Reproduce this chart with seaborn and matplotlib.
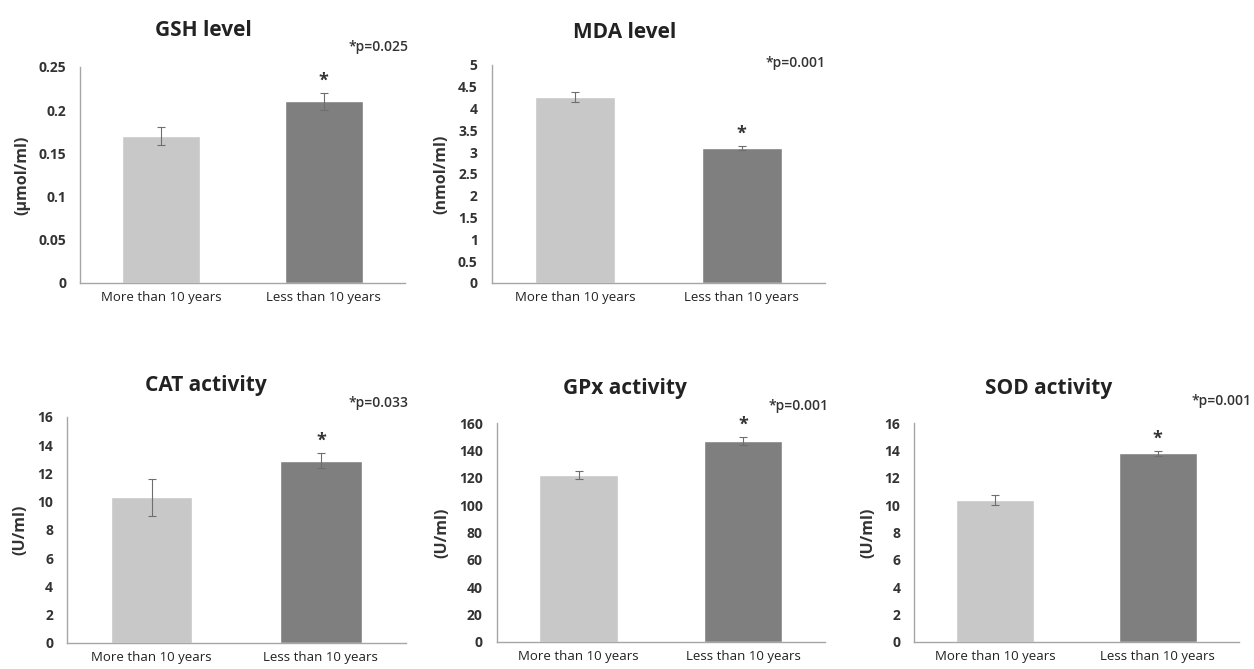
import numpy as np
import matplotlib
matplotlib.use("Agg")
import matplotlib.pyplot as plt
import seaborn as sns

# groups on the x axis
groups = ["More than 10 years", "Less than 10 years"]

# means and error bars
gsh_mean = [0.17, 0.21]
gsh_err = [0.01, 0.01]
mda_mean = [4.27, 3.10]
mda_err = [0.12, 0.05]
cat_mean = [10.3, 12.9]
cat_err = [1.3, 0.55]
gpx_mean = [122, 147]
gpx_err = [3, 3]
sod_mean = [10.4, 13.8]
sod_err = [0.35, 0.2]

# tick labels as printed (Excel "general" format)
gsh_ticks = [0, 0.05, 0.1, 0.15, 0.2, 0.25]
gsh_labels = ["0", "0.05", "0.1", "0.15", "0.2", "0.25"]
mda_ticks = [0, 0.5, 1, 1.5, 2, 2.5, 3, 3.5, 4, 4.5, 5]
mda_labels = ["0", "0.5", "1", "1.5", "2", "2.5", "3", "3.5", "4", "4.5", "5"]
act_ticks = [0, 2, 4, 6, 8, 10, 12, 14, 16]
gpx_ticks = [0, 20, 40, 60, 80, 100, 120, 140, 160]

light = "#c8c8c8"
dark = "#7f7f7f"
axis_grey = "#a6a6a6"
font = ["Open Sans", "DejaVu Sans"]

sns.set_style("white")
plt.rcParams["font.family"] = font


def draw_panel(fig, rect, means, errs, title, ylabel, ticks, labels, ptext,
               title_xy, p_xy):
    ax = fig.add_axes(rect)
    sns.barplot(x=groups, y=means, hue=groups, palette=[light, dark],
                width=0.48, legend=False, ax=ax, saturation=1)
    ax.errorbar(range(len(groups)), means, yerr=errs, fmt="none",
                ecolor="#6e6e6e", elinewidth=0.8, capsize=3, capthick=0.8)
    # significance star above the second bar
    ax.annotate("*", xy=(1, means[1] + errs[1]), xytext=(0, 2),
                textcoords="offset points", ha="center", va="bottom",
                fontsize=13, fontweight="bold", color="#333333")
    ax.set_xlim(-0.5, 1.5)
    ax.set_ylim(ticks[0], ticks[-1])
    ax.set_yticks(ticks)
    ax.set_yticklabels(labels)
    ax.tick_params(axis="y", length=0, pad=10, labelsize=10)
    ax.tick_params(axis="x", length=0, pad=6, labelsize=9.5)
    for t in ax.get_yticklabels():
        t.set_fontweight("bold")
        t.set_color("#333333")
    for t in ax.get_xticklabels():
        t.set_color("#222222")
    ax.set_ylabel(ylabel, fontsize=11.5, fontweight="bold", labelpad=6,
                  color="#333333")
    ax.set_xlabel("")
    for s in ["top", "right"]:
        ax.spines[s].set_visible(False)
    for s in ["left", "bottom"]:
        ax.spines[s].set_color(axis_grey)
        ax.spines[s].set_linewidth(1.0)
    ax.text(title_xy[0], title_xy[1], title, transform=ax.transAxes,
            ha="center", va="center", fontsize=15, fontweight="bold",
            color="#222222")
    ax.text(p_xy[0], p_xy[1], ptext, transform=ax.transAxes,
            ha="right", va="center", fontsize=10, fontweight="semibold",
            color="#333333")
    return ax


fig = plt.figure(figsize=(12.54, 6.69), dpi=100)

draw_panel(fig, [0.0638, 0.577, 0.259, 0.323], gsh_mean, gsh_err,
           "GSH level", "(\u00b5mol/ml)", gsh_ticks, gsh_labels, "*p=0.025",
           (0.38, 1.17), (1.01, 1.09))
draw_panel(fig, [0.392, 0.577, 0.266, 0.326], mda_mean, mda_err,
           "MDA level", "(nmol/ml)", mda_ticks, mda_labels, "*p=0.001",
           (0.40, 1.15), (1.0, 1.01))
draw_panel(fig, [0.0534, 0.0389, 0.270, 0.338], cat_mean, cat_err,
           "CAT activity", "(U/ml)", act_ticks, [str(v) for v in act_ticks],
           "*p=0.033", (0.41, 1.14), (1.01, 1.06))
draw_panel(fig, [0.396, 0.0404, 0.262, 0.327], gpx_mean, gpx_err,
           "GPx activity", "(U/ml)", gpx_ticks, [str(v) for v in gpx_ticks],
           "*p=0.001", (0.39, 1.16), (1.01, 1.08))
draw_panel(fig, [0.729, 0.0404, 0.259, 0.327], sod_mean, sod_err,
           "SOD activity", "(U/ml)", act_ticks, [str(v) for v in act_ticks],
           "*p=0.001", (0.415, 1.16), (1.04, 1.10))

fig.savefig("out.png", dpi=100)
